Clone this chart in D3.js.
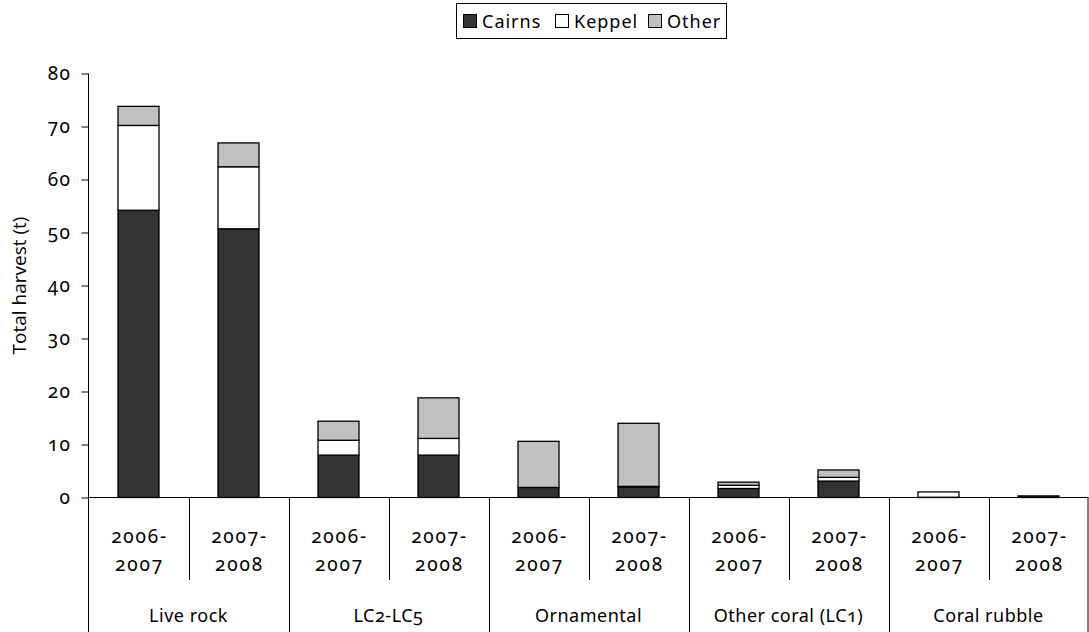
<!DOCTYPE html>
<html><head><meta charset="utf-8">
<script src="https://cdn.jsdelivr.net/npm/d3@7"></script>
<style>
body{margin:0;background:#fff;}
text{font-family:"Noto Sans",sans-serif;font-variant-numeric:oldstyle-nums;font-feature-settings:"onum" 1;fill:#000;}
</style></head><body>
<svg id="chart" width="1089" height="632"></svg>
<script>
const groups = ["Live rock", "LC2-LC5", "Ornamental", "Other coral (LC1)", "Coral rubble"];
const periods = ["2006-2007", "2007-2008"];
const seriesNames = ["Cairns", "Keppel", "Other"];
const cairns = [54.2, 50.7, 8.0, 8.0, 1.9, 2.0, 1.7, 3.1, 0.05, 0.3];
const keppel = [16.0, 11.7, 2.8, 3.15, 0.0, 0.1, 0.6, 0.7, 1.0, 0.0];
const other  = [3.6, 4.5, 3.6, 7.65, 8.7, 11.9, 0.6, 1.4, 0.0, 0.0];
const yTicks = [0, 10, 20, 30, 40, 50, 60, 70, 80];
const colors = ["#333333", "#ffffff", "#c0c0c0"];

const svg = d3.select("#chart");
const mLeft = 88.5, mRight = 1088.5, mTop = 73.5, mBottom = 497.5;

const keys = [];
groups.forEach(g => periods.forEach(p => keys.push(g + "|" + p)));
const rows = keys.map((k, i) => ({key: k, Cairns: cairns[i], Keppel: keppel[i], Other: other[i]}));

const x = d3.scaleBand().domain(keys).range([mLeft, mRight]).paddingInner(0.59).paddingOuter(0.295);
const xb = d3.scaleBand().domain(keys).range([mLeft, mRight]);
const y = d3.scaleLinear().domain([0, 80]).range([mBottom, mTop]);

const stack = d3.stack().keys(seriesNames)(rows);

// bars
svg.append("g").selectAll("g").data(stack).join("g")
  .attr("fill", (d, i) => colors[i])
  .selectAll("rect").data(d => d).join("rect")
  .attr("x", d => x(d.data.key))
  .attr("width", x.bandwidth())
  .attr("y", d => y(d[1]))
  .attr("height", d => Math.max(0, y(d[0]) - y(d[1])))
  .attr("stroke", "#000").attr("stroke-width", 1.3)
  .attr("display", d => (d[1] - d[0]) > 0 ? null : "none");

// y axis
const yAxis = d3.axisLeft(y).tickValues(yTicks).tickSize(7).tickPadding(10).tickFormat(d3.format("d"));
const ya = svg.append("g").attr("transform", `translate(${mLeft},0)`).call(yAxis);
ya.select(".domain").remove();
ya.selectAll(".tick line").attr("stroke", "#000");
ya.selectAll(".tick text").style("font-size", "19px").style("letter-spacing", "1.5px")
  .style("font-family", "'Noto Sans',sans-serif").attr("dy", "0.34em");
svg.append("line").attr("x1", mLeft).attr("x2", mLeft).attr("y1", mTop).attr("y2", 632).attr("stroke", "#000");

// x axis baseline
svg.append("line").attr("x1", mLeft).attr("x2", mRight).attr("y1", mBottom).attr("y2", mBottom).attr("stroke", "#000");

// dividers
keys.forEach((k, i) => {
  if (i === 0) return;
  const xx = Math.round(xb(k)) + 0.5;
  const isGroup = i % 2 === 0;
  svg.append("line").attr("x1", xx).attr("x2", xx).attr("y1", mBottom).attr("y2", isGroup ? 632 : 580).attr("stroke", "#000");
});
svg.append("line").attr("x1", mRight - 0.5).attr("x2", mRight - 0.5).attr("y1", mBottom).attr("y2", 632).attr("stroke", "#000");

// period labels
keys.forEach((k, i) => {
  const p = periods[i % 2].split("-");
  const cx = xb(k) + xb.bandwidth() / 2 + 1;
  const t = svg.append("text").attr("text-anchor", "middle").style("font-size", "19px").style("letter-spacing", "1.8px");
  t.append("tspan").attr("x", cx).attr("y", 543).text(p[0] + "-");
  t.append("tspan").attr("x", cx).attr("y", 571).text(p[1]);
});
// group labels
groups.forEach((g, gi) => {
  const cx = xb(keys[gi * 2 + 1]);
  svg.append("text").attr("x", cx).attr("y", 622).attr("text-anchor", "middle")
    .style("font-size", "18px").style("letter-spacing", "0.5px").text(g);
});

// y title
svg.append("text").attr("transform", `translate(26,${(mTop + mBottom) / 2}) rotate(-90)`).attr("text-anchor", "middle")
  .style("font-family", "'Open Sans',sans-serif").style("font-variant-numeric", "normal").style("font-size", "19px")
  .text("Total harvest (t)");

// legend
const lg = svg.append("g");
lg.append("rect").attr("x", 456.5).attr("y", 3.5).attr("width", 270).attr("height", 35).attr("fill", "#fff").attr("stroke", "#000");
const lx = [463, 555, 648];
seriesNames.forEach((s, i) => {
  lg.append("rect").attr("x", lx[i] + 0.5).attr("y", 14.5).attr("width", 13).attr("height", 13).attr("fill", colors[i]).attr("stroke", "#000");
  lg.append("text").attr("x", lx[i] + 19).attr("y", 28).style("font-size", "18px").style("letter-spacing", "1px").text(s);
});
</script></body></html>
